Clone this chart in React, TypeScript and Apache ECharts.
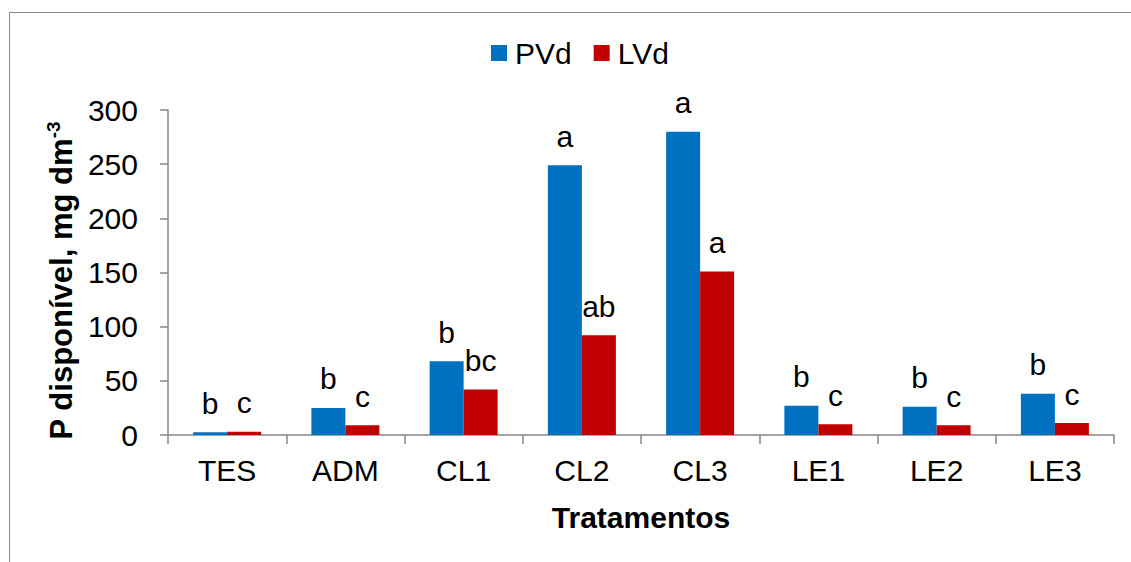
import React, { useEffect, useRef } from "react";
import * as echarts from "echarts";

const categories = ["TES", "ADM", "CL1", "CL2", "CL3", "LE1", "LE2", "LE3"];
const pvdValues = [2.5, 25, 68, 249, 280, 27, 26, 38];
const lvdValues = [3, 9, 42, 92, 151, 10, 9, 11];
const pvdLetters = ["b", "b", "b", "a", "a", "b", "b", "b"];
const lvdLetters = ["c", "c", "bc", "ab", "a", "c", "c", "c"];
const yTicks = { min: 0, max: 300, interval: 50 };

const FONT = "'Liberation Sans', Arial, sans-serif";
const AXIS_GRAY = "#868686";

export default function App() {
  const ref = useRef<HTMLDivElement>(null);

  useEffect(() => {
    if (!ref.current) return;
    const chart = echarts.init(ref.current, null, { renderer: "svg" });
    const labelStyle = {
      show: true,
      position: "top" as const,
      distance: 14,
      fontSize: 30,
      fontFamily: FONT,
      color: "#000",
    };
    chart.setOption({
      animation: false,
      backgroundColor: "#fff",
      textStyle: { fontFamily: FONT },
      graphic: [
        {
          type: "rect",
          shape: { x: 9.5, y: 12.5, width: 1200, height: 700 },
          style: { fill: "none", stroke: "#8c8c8c", lineWidth: 1 },
          silent: true,
          z: -1,
        },
      ],
      legend: {
        top: 33,
        left: 486,
        itemWidth: 16,
        itemHeight: 16,
        itemGap: 22,
        icon: "rect",
        textStyle: {
          fontSize: 30,
          fontFamily: FONT,
          color: "#000",
          padding: [0, 0, 0, 3],
        },
        data: ["PVd", "LVd"],
      },
      grid: {
        left: 168,
        right: 17,
        top: 110,
        bottom: 127,
        containLabel: false,
        outerBoundsMode: "none",
      },
      xAxis: {
        type: "category",
        data: categories,
        name: "Tratamentos",
        nameLocation: "middle",
        nameGap: 67,
        nameTextStyle: {
          fontSize: 30,
          fontWeight: "bold",
          fontFamily: FONT,
          color: "#000",
        },
        axisLine: { lineStyle: { color: AXIS_GRAY, width: 1.5 } },
        axisTick: { show: true, length: 9, lineStyle: { color: AXIS_GRAY, width: 1.5 } },
        axisLabel: { fontSize: 30, fontFamily: FONT, color: "#000", margin: 20 },
      },
      yAxis: {
        type: "value",
        min: yTicks.min,
        max: yTicks.max,
        interval: yTicks.interval,
        name: "{b|P disponível, mg dm}{sup|-3}",
        nameLocation: "middle",
        nameGap: 86,
        nameTextStyle: {
          padding: [0, 16, 0, 0],
          rich: {
            b: {
              fontSize: 31,
              fontWeight: "bold",
              fontFamily: FONT,
              color: "#000",
              lineHeight: 36,
            },
            sup: {
              fontSize: 19,
              fontWeight: "bold",
              fontFamily: FONT,
              color: "#000",
              lineHeight: 18,
              verticalAlign: "top",
            },
          },
        },
        splitLine: { show: false },
        axisLine: { show: true, lineStyle: { color: AXIS_GRAY, width: 1.5 } },
        axisTick: { show: true, length: 8, lineStyle: { color: AXIS_GRAY, width: 1.5 } },
        axisLabel: { fontSize: 30, fontFamily: FONT, color: "#000", margin: 30 },
      },
      series: [
        {
          name: "PVd",
          type: "bar",
          data: pvdValues,
          barWidth: 34,
          barGap: "0%",
          itemStyle: { color: "#0070C0" },
          label: { ...labelStyle, formatter: (p: any) => pvdLetters[p.dataIndex] },
        },
        {
          name: "LVd",
          type: "bar",
          data: lvdValues,
          barWidth: 34,
          barGap: "0%",
          itemStyle: { color: "#C00000" },
          label: { ...labelStyle, formatter: (p: any) => lvdLetters[p.dataIndex] },
        },
      ],
    });
    return () => chart.dispose();
  }, []);

  return (
    <div
      ref={ref}
      style={{ position: "fixed", left: 0, top: 0, width: 1131, height: 562, background: "#fff" }}
    />
  );
}
